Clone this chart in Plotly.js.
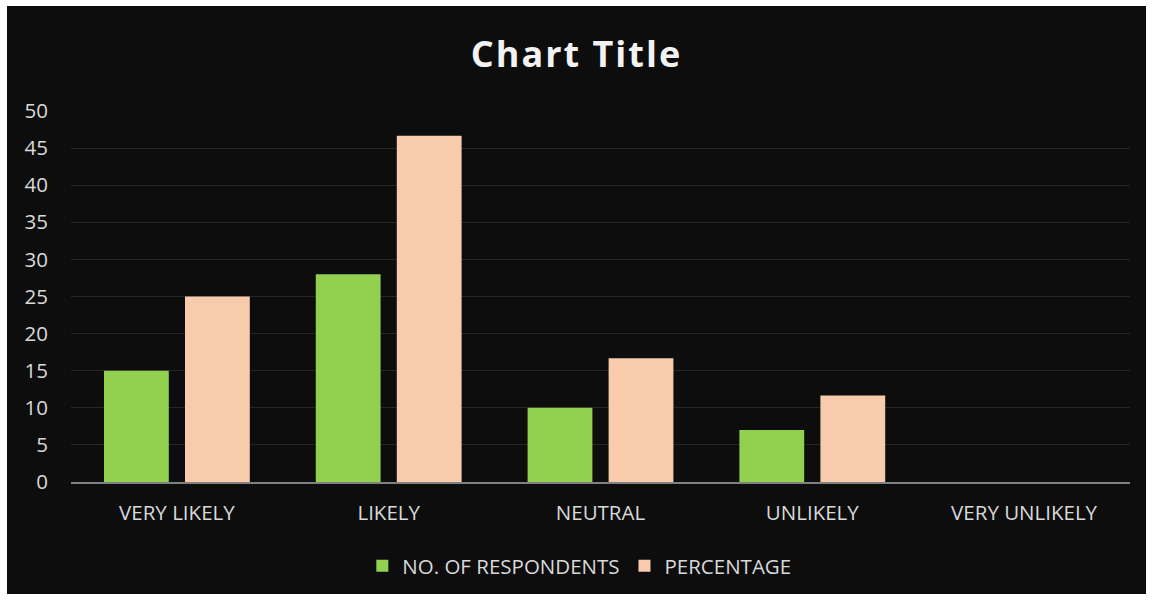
<!DOCTYPE html>
<html><head><meta charset="utf-8">
<script src="https://cdn.plot.ly/plotly-3.0.1.min.js"></script>
<style>
html,body{margin:0;padding:0;background:#ffffff;}
#chart{position:absolute;left:7px;top:6px;width:1139px;height:588px;}
#chart .gtitle{letter-spacing:2px;}
</style></head>
<body><div id="chart"></div>
<script>
const categories = ["VERY LIKELY","LIKELY","NEUTRAL","UNLIKELY","VERY UNLIKELY"];
const respondents = [15,28,10,7,0];
const percentage = [25,46.67,16.67,11.67,0];
const seriesNames = ["NO. OF RESPONDENTS","PERCENTAGE"];
const tickVals = [0,5,10,15,20,25,30,35,40,45,50];

const data = [
  {type:"bar", x:categories, y:respondents, name:seriesNames[0], marker:{color:"#92d050"}},
  {type:"bar", x:categories, y:percentage, name:seriesNames[1], marker:{color:"#f8cbad"}}
];
const layout = {
  width:1139, height:588,
  paper_bgcolor:"#0d0d0d", plot_bgcolor:"#0d0d0d",
  margin:{l:64,r:16,t:105,b:112,autoexpand:false},
  title:{text:"<b>Chart Title</b>", x:0.5, xanchor:"center", y:0.918, yanchor:"middle",
    font:{family:"Open Sans, sans-serif", size:36, color:"#f2f2f2"}},
  barmode:"group", bargap:0.235, bargroupgap:0.2,
  xaxis:{tickfont:{family:"Open Sans, sans-serif", size:20.5, color:"#d9d9d9"}, showgrid:false,
    showline:true, linecolor:"#808080", linewidth:2, ticks:"", fixedrange:true, ticklabelstandoff:11},
  yaxis:{range:[0,50], tickvals:tickVals, tickfont:{family:"Open Sans, sans-serif", size:20.5, color:"#d9d9d9"},
    gridcolor:"#262626", gridwidth:1, zeroline:false, showline:false, ticks:"", ticklabelstandoff:22},
  showlegend:true,
  legend:{orientation:"h", x:0.48, xanchor:"center", y:-0.2264, yanchor:"middle",
    font:{family:"Open Sans, sans-serif", size:20.5, color:"#d9d9d9"}, itemwidth:30, tracegroupgap:0}
};
Plotly.newPlot("chart", data, layout, {displayModeBar:false});
</script></body></html>
